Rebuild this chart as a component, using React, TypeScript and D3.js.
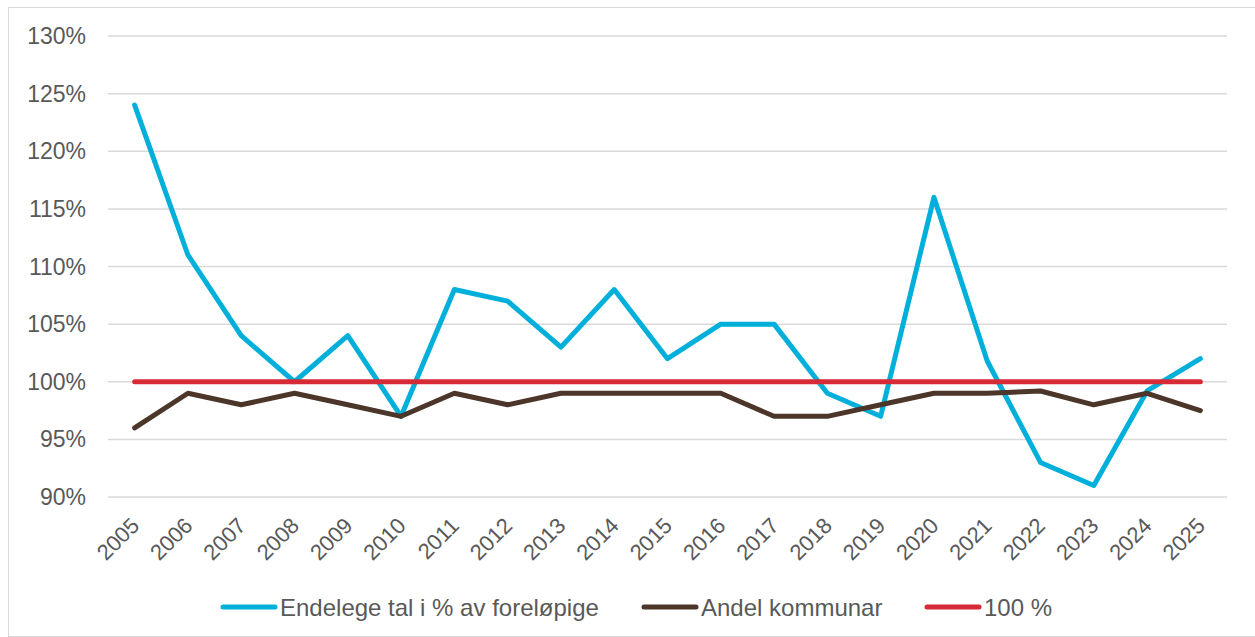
import React, { useEffect, useRef } from "react";
import * as d3 from "d3";

const years = [
  "2005", "2006", "2007", "2008", "2009", "2010", "2011", "2012", "2013", "2014",
  "2015", "2016", "2017", "2018", "2019", "2020", "2021", "2022", "2023", "2024", "2025",
];
const endelege = [124, 111, 104, 100, 104, 97, 108, 107, 103, 108, 102, 105, 105, 99, 97, 116, 101.8, 93, 91, 99.2, 102];
const andel = [96, 99, 98, 99, 98, 97, 99, 98, 99, 99, 99, 99, 97, 97, 98, 99, 99, 99.2, 98, 99, 97.5];
const hundred = years.map(() => 100);
const yTicks = [90, 95, 100, 105, 110, 115, 120, 125, 130];

const series = [
  { name: "Endelege tal i % av foreløpige", values: endelege, color: "#00b0da" },
  { name: "Andel kommunar", values: andel, color: "#4b3629" },
  { name: "100 %", values: hundred, color: "#d62b36" },
];

const W = 1255;
const H = 637;
const MARGIN = { LEFT: 108, RIGHT: 28, TOP: 36, BOTTOM: 140 };
const FONT = "'Liberation Sans', Arial, sans-serif";
const LEGEND_X = [221, 642, 925];

export default function App() {
  const ref = useRef<SVGSVGElement | null>(null);

  useEffect(() => {
    const svg = d3.select(ref.current);
    svg.selectAll("*").remove();

    const x = d3.scaleBand().domain(years).range([MARGIN.LEFT, W - MARGIN.RIGHT]);
    const y = d3.scaleLinear().domain([90, 130]).range([H - MARGIN.BOTTOM, MARGIN.TOP]);
    const cx = (d: string) => (x(d) as number) + x.bandwidth() / 2;

    // chart frame
    svg.append("rect")
      .attr("x", 8.5).attr("y", 7.5)
      .attr("width", W - 8).attr("height", H - 8)
      .attr("fill", "#fff").attr("stroke", "#d9d9d9");

    // gridlines
    svg.append("g").selectAll("line").data(yTicks).enter().append("line")
      .attr("x1", MARGIN.LEFT).attr("x2", W - MARGIN.RIGHT)
      .attr("y1", (d) => y(d)).attr("y2", (d) => y(d))
      .attr("stroke", "#d9d9d9").attr("stroke-width", 1.5);

    // y labels
    svg.append("g").selectAll("text").data(yTicks).enter().append("text")
      .attr("x", 86).attr("y", (d) => y(d) + 8)
      .attr("text-anchor", "end")
      .attr("font-family", FONT).attr("font-size", 23).attr("fill", "#595959")
      .text((d) => d + "%");

    // x labels
    svg.append("g").selectAll("text").data(years).enter().append("text")
      .attr("transform", (d) => `translate(${cx(d) + 6}, ${H - MARGIN.BOTTOM + 30}) rotate(-45)`)
      .attr("text-anchor", "end")
      .attr("font-family", FONT).attr("font-size", 22).attr("fill", "#595959")
      .text((d) => d);

    const line = d3.line<number>()
      .x((_, i) => cx(years[i]))
      .y((d) => y(d));

    series.forEach((s) => {
      svg.append("path")
        .datum(s.values)
        .attr("d", line)
        .attr("fill", "none")
        .attr("stroke", s.color)
        .attr("stroke-width", 5)
        .attr("stroke-linecap", "round")
        .attr("stroke-linejoin", "round");
    });

    // legend
    series.forEach((s, i) => {
      const g = svg.append("g").attr("transform", `translate(${LEGEND_X[i]}, 607)`);
      g.append("line").attr("x1", 2).attr("x2", 54).attr("y1", 0).attr("y2", 0)
        .attr("stroke", s.color).attr("stroke-width", 5).attr("stroke-linecap", "round");
      g.append("text").attr("x", 59).attr("y", 8.5)
        .attr("font-family", FONT).attr("font-size", 24).attr("fill", "#595959")
        .text(s.name);
    });
  }, []);

  return <svg ref={ref} width={W} height={H} style={{ display: "block", position: "absolute", left: 0, top: 0 }} />;
}
